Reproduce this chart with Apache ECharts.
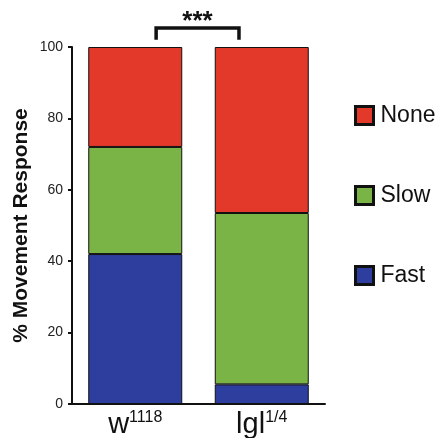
<!DOCTYPE html>
<html>
<head>
<meta charset="utf-8">
<script src="https://cdn.jsdelivr.net/npm/echarts@6/dist/echarts.min.js"></script>
<style>html,body{margin:0;padding:0;background:#fff}#c{width:438px;height:438px}</style>
</head>
<body>
<div id="c"></div>
<script>
// ---- data ----
const categoryMain = ['w', 'lgl'];
const categorySup = ['1118', '1/4'];
const fastValues = [42, 5.5];
const slowValues = [30, 48];
const noneValues = [28, 46.5];
const yTicks = [0, 20, 40, 60, 80, 100];
const seriesNames = ['Fast', 'Slow', 'None'];
const significance = '***';

const FONT = '"Liberation Sans", Arial, Helvetica, sans-serif';
const colors = { Fast: '#2E3E9E', Slow: '#7AB446', None: '#E2392A' };
const categories = categoryMain.map((m, i) => m + '^' + categorySup[i]);

const chart = echarts.init(document.getElementById('c'), null, { renderer: 'canvas' });

function barSeries(name, values) {
  return {
    name: name,
    type: 'bar',
    stack: 'resp',
    barWidth: 94,
    data: values,
    itemStyle: { color: colors[name], borderColor: '#111', borderWidth: 1 },
    emphasis: { disabled: true },
    animation: false
  };
}

const option = {
  animation: false,
  grid: { left: 72, right: 113, top: 47, bottom: 34, containLabel: false, outerBoundsMode: 'none' },
  legend: {
    orient: 'vertical',
    left: 349,
    top: 99,
    itemWidth: 18,
    itemHeight: 18,
    itemGap: 57,
    icon: 'rect',
    selectedMode: false,
    data: ['None', 'Slow', 'Fast'],
    itemStyle: { borderColor: '#111', borderWidth: 3 },
    textStyle: { fontSize: 23, color: '#111', fontFamily: FONT, padding: [0, 0, 0, 2] }
  },
  xAxis: {
    type: 'category',
    data: categories,
    axisLine: { lineStyle: { color: '#111', width: 2 } },
    axisTick: { show: false },
    axisLabel: {
      margin: 6,
      interval: 0,
      formatter: function (v, idx) {
        return '{m|' + categoryMain[idx] + '}{s|' + categorySup[idx] + '}';
      },
      rich: {
        m: { fontSize: 29, fontFamily: FONT, color: '#111', lineHeight: 29 },
        s: { fontSize: 16, fontFamily: FONT, color: '#111', lineHeight: 16, verticalAlign: 'top' }
      }
    }
  },
  yAxis: {
    type: 'value',
    min: yTicks[0],
    max: yTicks[yTicks.length - 1],
    interval: yTicks[1] - yTicks[0],
    name: '% Movement Response',
    nameLocation: 'middle',
    nameGap: 40,
    nameMoveOverlap: false,
    nameTextStyle: { fontSize: 21, fontWeight: 'bold', color: '#111', fontFamily: FONT },
    axisLine: { show: true, lineStyle: { color: '#111', width: 2 } },
    axisTick: { show: true, length: 4, lineStyle: { color: '#111', width: 2 } },
    axisLabel: { fontSize: 14, color: '#222', fontFamily: FONT, margin: 9 },
    splitLine: { show: false }
  },
  series: [
    barSeries('Fast', fastValues),
    barSeries('Slow', slowValues),
    barSeries('None', noneValues),
    {
      type: 'custom',
      name: 'sig',
      clip: false,
      silent: true,
      data: [[0, 1]],
      renderItem: function (params, api) {
        const pTop0 = api.coord([0, 105.3]);
        const pTop1 = api.coord([1, 105.3]);
        const pBot0 = api.coord([0, 102]);
        const band = api.size([1, 0])[0];
        const x0 = pTop0[0] + band * 0.165;
        const x1 = pTop1[0] - band * 0.18;
        const yT = pTop0[1];
        const yB = pBot0[1];
        return {
          type: 'group',
          children: [
            {
              type: 'polyline',
              shape: { points: [[x0, yB], [x0, yT], [x1, yT], [x1, yB]] },
              style: { stroke: '#111', lineWidth: 3.5, fill: null, lineJoin: 'miter' }
            },
            {
              type: 'text',
              x: (x0 + x1) / 2,
              y: yT + 7,
              style: {
                text: significance,
                fontSize: 26,
                fontWeight: 'bold',
                fontFamily: FONT,
                fill: '#111',
                align: 'center',
                verticalAlign: 'bottom'
              }
            }
          ]
        };
      }
    }
  ]
};
chart.setOption(option);
</script>
</body>
</html>
